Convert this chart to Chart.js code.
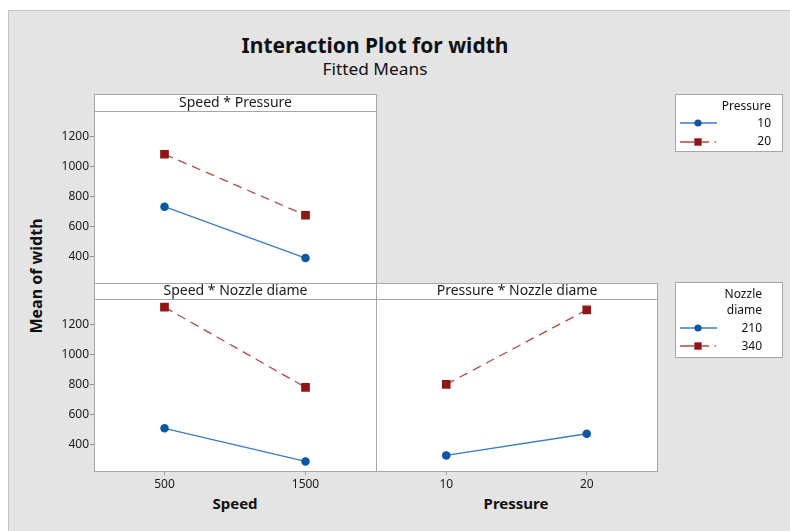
<!DOCTYPE html>
<html>
<head>
<meta charset="utf-8">
<script src="https://cdn.jsdelivr.net/npm/chart.js@4.4.1/dist/chart.umd.min.js"></script>
<style>
  html, body { margin: 0; padding: 0; background: #fff; }
  body { width: 790px; height: 531px; position: relative; overflow: hidden; font-family: 'Noto Sans', 'Open Sans', sans-serif; color: #111; }
  #bg { position: absolute; left: 8px; top: 10px; right: 0; bottom: 0; background: #e4e4e4; border-top: 1px solid #c4c4c4; border-left: 1px solid #c4c4c4; }
  canvas.layer { position: absolute; left: 0; top: 0; }
  .txt { position: absolute; white-space: nowrap; line-height: 1; }
  .legend { position: absolute; background: #fff; border: 1px solid #a6a6a6; box-sizing: border-box; }
</style>
</head>
<body>
<div id="bg"></div>

<div class="txt" id="title" style="left:375px; top:45px; font-size:21px; font-weight:bold; transform:translate(-50%,-50%);">Interaction Plot for width</div>
<div class="txt" id="subtitle" style="left:375px; top:69px; font-size:16px; transform:translate(-50%,-50%) scaleX(1.08);">Fitted Means</div>

<div class="txt" style="left:235px; top:503px; font-size:15px; font-weight:bold; transform:translate(-50%,-50%);">Speed</div>
<div class="txt" style="left:516px; top:503px; font-size:15px; font-weight:bold; transform:translate(-50%,-50%);">Pressure</div>
<div class="txt" style="left:36px; top:276px; font-size:16px; font-weight:bold; transform:translate(-50%,-50%) rotate(-90deg);">Mean of width</div>

<canvas class="layer" id="cSP" width="790" height="531"></canvas>
<canvas class="layer" id="cSN" width="790" height="531"></canvas>
<canvas class="layer" id="cPN" width="790" height="531"></canvas>

<div class="legend" style="left:675px; top:94px; width:108px; height:58px;"></div>
<div class="legend" style="left:675px; top:282px; width:108px; height:76px;"></div>
<svg id="legendMarks" width="790" height="531" style="position:absolute;left:0;top:0;"></svg>
<div class="txt" style="right:19px; top:106px; font-size:12px; transform:translateY(-50%);">Pressure</div>
<div class="txt" style="right:19px; top:123px; font-size:12px; transform:translateY(-50%);">10</div>
<div class="txt" style="right:19px; top:141px; font-size:12px; transform:translateY(-50%);">20</div>
<div class="txt" style="right:28px; top:294px; font-size:12px; transform:translateY(-50%);">Nozzle</div>
<div class="txt" style="right:28px; top:310px; font-size:12px; transform:translateY(-50%);">diame</div>
<div class="txt" style="right:28px; top:328px; font-size:12px; transform:translateY(-50%);">210</div>
<div class="txt" style="right:28px; top:346px; font-size:12px; transform:translateY(-50%);">340</div>

<script>
// Factor levels
const speedLevels = [500, 1500];
const pressureLevels = [10, 20];

// Fitted means of width
const speedAtPressure10 = [733, 391];
const speedAtPressure20 = [1082, 676];
const speedAtNozzle210 = [509, 289];
const speedAtNozzle340 = [1316, 782];
const pressureAtNozzle210 = [329, 473];
const pressureAtNozzle340 = [802, 1298];

// Axis ticks
const meanTicks = [400, 600, 800, 1000, 1200];
const speedTicks = [500, 1500];
const pressureTicks = [10, 20];

const BLUE = '#0b57a4';
const BLUE_LINE = '#3a7cc4';
const RED = '#8e1616';
const RED_LINE = '#b04848';
const FRAME = '#a6a6a6';
const FONT = "'Noto Sans', 'Open Sans', sans-serif";

Chart.defaults.font.family = FONT;
Chart.defaults.font.size = 12;
Chart.defaults.color = '#1a1a1a';

// White plot area, strip header and frame around each panel
const panelPlugin = {
  id: 'panel',
  beforeDraw(chart, args, opts) {
    const { ctx, chartArea: a } = chart;
    ctx.save();
    ctx.fillStyle = '#fff';
    ctx.fillRect(a.left, a.top - opts.strip, a.right - a.left, a.bottom - a.top + opts.strip);
    ctx.restore();
  },
  afterDraw(chart, args, opts) {
    const { ctx, chartArea: a } = chart;
    ctx.save();
    ctx.strokeStyle = FRAME;
    ctx.lineWidth = 1;
    const l = Math.round(a.left) + 0.5, r = Math.round(a.right) + 0.5;
    const t = Math.round(a.top) + 0.5, b = Math.round(a.bottom) + 0.5;
    const h = Math.round(a.top - opts.strip) + 0.5;
    ctx.strokeRect(l, h, r - l, b - h);
    ctx.beginPath();
    ctx.moveTo(l, t); ctx.lineTo(r, t);
    ctx.stroke();
    ctx.fillStyle = '#1a1a1a';
    ctx.font = '14px ' + FONT;
    ctx.textAlign = 'center';
    ctx.textBaseline = 'middle';
    ctx.fillText(opts.label, (l + r) / 2, (h + t) / 2);
    ctx.restore();
  }
};

function lineSet(label, xs, ys, kind) {
  const red = kind === 'red';
  return {
    label,
    data: xs.map((x, i) => ({ x, y: ys[i] })),
    borderColor: red ? RED_LINE : BLUE_LINE,
    backgroundColor: red ? RED : BLUE,
    pointBackgroundColor: red ? RED : BLUE,
    pointBorderColor: red ? RED : BLUE,
    pointStyle: red ? 'rect' : 'circle',
    pointRadius: red ? 5.2 : 3.6,
    borderWidth: 1.3,
    borderDash: red ? [9, 6] : [],
    showLine: true,
    fill: false
  };
}

function makeChart(id, cfg) {
  const yAxis = {
    type: 'linear',
    min: 225, max: 1370,
    display: cfg.showY,
    afterBuildTicks: s => { s.ticks = meanTicks.map(v => ({ value: v })); },
    afterFit: s => { if (cfg.showY) s.width = 54; },
    grid: { drawOnChartArea: false, drawTicks: true, tickLength: 4, color: '#8c96a6' },
    border: { display: false },
    ticks: { padding: 1, color: '#1a1a1a', font: { size: 12 }, callback: v => String(v) }
  };
  const xAxis = {
    type: 'linear',
    min: cfg.xMin, max: cfg.xMax,
    display: cfg.showX,
    afterBuildTicks: s => { s.ticks = cfg.xTicks.map(v => ({ value: v })); },
    afterFit: s => { if (cfg.showX) s.height = 20; },
    grid: { drawOnChartArea: false, drawTicks: true, tickLength: 4, color: '#a6a6a6' },
    border: { display: false },
    ticks: { padding: 2, color: '#1a1a1a', font: { size: 12 }, callback: v => String(v) }
  };
  return new Chart(document.getElementById(id), {
    type: 'scatter',
    data: { datasets: cfg.datasets },
    options: {
      responsive: false,
      animation: false,
      devicePixelRatio: 1,
      layout: { padding: cfg.padding },
      scales: { x: xAxis, y: yAxis },
      plugins: {
        legend: { display: false },
        tooltip: { enabled: false },
        panel: { strip: cfg.strip, label: cfg.label }
      }
    },
    plugins: [panelPlugin]
  });
}

makeChart('cSP', {
  label: 'Speed * Pressure', strip: 17,
  showY: true, showX: false,
  xMin: 0, xMax: 2000, xTicks: speedTicks,
  padding: { left: 40, top: 111, right: 414, bottom: 248 },
  datasets: [
    lineSet('10', speedLevels, speedAtPressure10, 'blue'),
    lineSet('20', speedLevels, speedAtPressure20, 'red')
  ]
});

makeChart('cSN', {
  label: 'Speed * Nozzle diame', strip: 16,
  showY: true, showX: true,
  xMin: 0, xMax: 2000, xTicks: speedTicks,
  padding: { left: 40, top: 299, right: 414, bottom: 40 },
  datasets: [
    lineSet('210', speedLevels, speedAtNozzle210, 'blue'),
    lineSet('340', speedLevels, speedAtNozzle340, 'red')
  ]
});

makeChart('cPN', {
  label: 'Pressure * Nozzle diame', strip: 16,
  showY: false, showX: true,
  xMin: 5, xMax: 25, xTicks: pressureTicks,
  padding: { left: 376, top: 299, right: 133, bottom: 40 },
  datasets: [
    lineSet('210', pressureLevels, pressureAtNozzle210, 'blue'),
    lineSet('340', pressureLevels, pressureAtNozzle340, 'red')
  ]
});

// Legend keys: line with marker for each level
(function drawKeys() {
  const svg = document.getElementById('legendMarks');
  const ns = 'http://www.w3.org/2000/svg';
  function el(tag, attrs) {
    const e = document.createElementNS(ns, tag);
    for (const k in attrs) e.setAttribute(k, attrs[k]);
    svg.appendChild(e);
  }
  function blueKey(y) {
    el('line', { x1: 680, y1: y, x2: 717, y2: y, stroke: BLUE_LINE, 'stroke-width': 1.5 });
    el('circle', { cx: 698, cy: y, r: 3.6, fill: BLUE });
  }
  function redKey(y) {
    el('line', { x1: 680, y1: y, x2: 694, y2: y, stroke: RED_LINE, 'stroke-width': 1.5 });
    el('line', { x1: 702, y1: y, x2: 709, y2: y, stroke: RED_LINE, 'stroke-width': 1.5 });
    el('line', { x1: 714.5, y1: y, x2: 716, y2: y, stroke: RED_LINE, 'stroke-width': 1.5 });
    el('rect', { x: 694.3, y: y - 3.7, width: 7.4, height: 7.4, fill: RED });
  }
  blueKey(123); redKey(142);
  blueKey(328); redKey(346);
})();
</script>
</body>
</html>
